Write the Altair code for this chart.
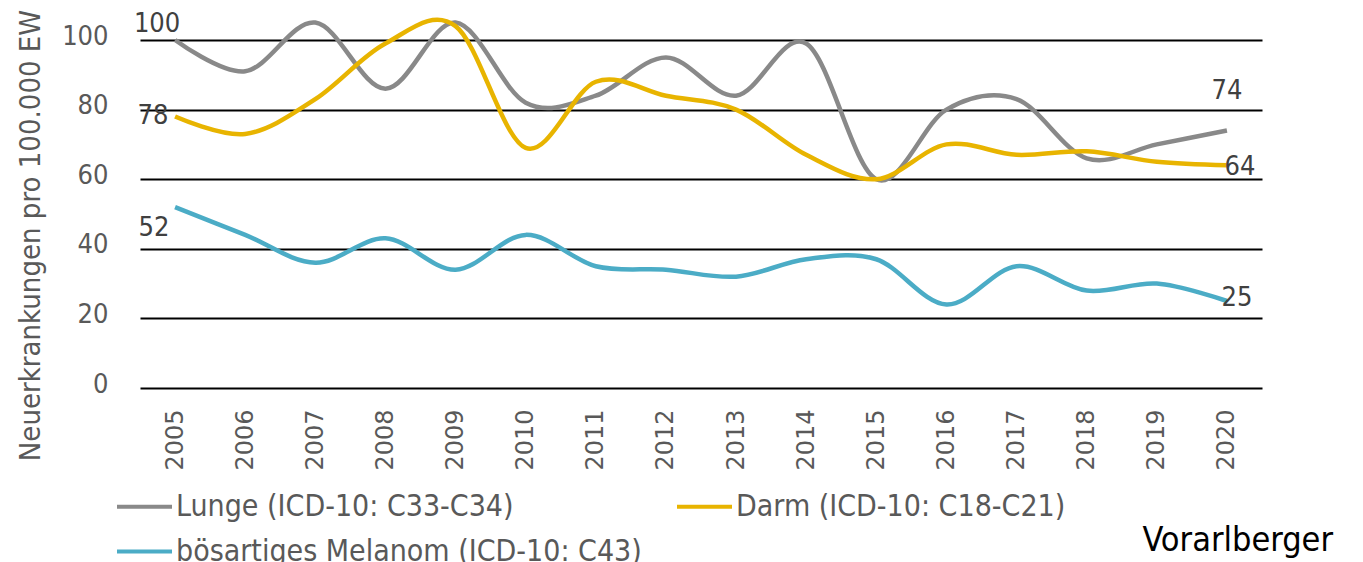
import altair as alt
import pandas as pd

years = [str(y) for y in range(2005, 2021)]
series_names = ["Lunge (ICD-10: C33-C34)", "Darm (ICD-10: C18-C21)", "bösartiges Melanom (ICD-10: C43)"]
series_colors = ["#898989", "#E8B400", "#4BACC6"]
lunge = [100, 91, 105, 86, 105, 82, 84, 95, 84, 99, 60, 80, 83, 66, 70, 74]
darm = [78, 73, 83, 99, 104, 69, 88, 84, 80, 67, 60, 70, 67, 68, 65, 64]
melanom = [52, 44, 36, 43, 34, 44, 35, 34, 32, 37, 37, 24, 35, 28, 30, 25]
y_ticks = [0, 20, 40, 60, 80, 100]
caption = ["Vorarlberger"]

rows = []
for name, vals in zip(series_names, [lunge, darm, melanom]):
    for i, (yr, v) in enumerate(zip(years, vals)):
        rows.append({"Jahr": yr, "Wert": v, "Serie": name, "idx": i})
df = pd.DataFrame(rows)

FONT_C = "DejaVu Sans Condensed"
FONT = "DejaVu Sans"

x_enc = alt.X("Jahr:O", scale=alt.Scale(type="point", padding=0.5), sort=years,
              axis=alt.Axis(title=None, labelAngle=-90, domain=False, ticks=False, grid=False,
                            labelFont=FONT, labelFontSize=24, labelColor="#595959",
                            labelPadding=21))
y_enc = alt.Y("Wert:Q", scale=alt.Scale(domain=[0, 100], nice=False),
              axis=alt.Axis(title="Neuerkrankungen pro 100.000 EW", values=y_ticks,
                            grid=True, gridColor="black", gridWidth=2, domain=False, ticks=False,
                            labelFont=FONT_C, labelFontSize=27, labelColor="#595959",
                            labelPadding=32, labelOffset=-4,
                            titleFont=FONT_C, titleFontSize=29, titleColor="#595959",
                            titleFontWeight="normal", titleX=-110, titleY=195,
                            titleBaseline="middle", titleAlign="center", titleAngle=270))

lines = alt.Chart(df).mark_line(interpolate="cardinal", strokeWidth=4.5).encode(
    x=x_enc, y=y_enc,
    color=alt.Color("Serie:N", scale=alt.Scale(domain=series_names, range=series_colors),
                    sort=series_names,
                    legend=alt.Legend(title=None, orient="none", legendX=-25, legendY=437,
                                      direction="horizontal", columns=2,
                                      symbolType="stroke", symbolSize=3025, symbolStrokeWidth=4,
                                      labelFont=FONT_C, labelFontSize=30, labelColor="#595959",
                                      columnPadding=27, rowPadding=-12, labelOffset=2,
                                      labelLimit=0)),
    order="idx:Q",
)

def label(series, year, dx, dy):
    return alt.Chart(df).transform_filter(
        (alt.datum.Serie == series) & (alt.datum.Jahr == year)
    ).mark_text(dx=dx, dy=dy, font=FONT_C, fontSize=27, color="#404040",
                align="center", baseline="middle").encode(
        x=alt.X("Jahr:O", sort=years), y="Wert:Q", text="Wert:Q")

labels = [
    label(series_names[0], "2005", -18, -16),
    label(series_names[1], "2005", -22, -1),
    label(series_names[2], "2005", -21, 21),
    label(series_names[0], "2020", 0, -39),
    label(series_names[1], "2020", 13, 2),
    label(series_names[2], "2020", 10, -3),
]

cap = alt.Chart(pd.DataFrame({"t": caption})).mark_text(
    font=FONT_C, fontSize=34, color="black", align="right", baseline="middle"
).encode(text="t:N", x=alt.value(1193), y=alt.value(501))

chart = alt.layer(lines, *labels, cap).properties(
    width=1122, height=348,
    padding={"left": 132, "top": 32, "right": 90, "bottom": 174},
    autosize=alt.AutoSizeParams(type="none"),
).configure_view(stroke=None)

chart.save("out.html", embed_options={"renderer": "svg", "actions": False})
